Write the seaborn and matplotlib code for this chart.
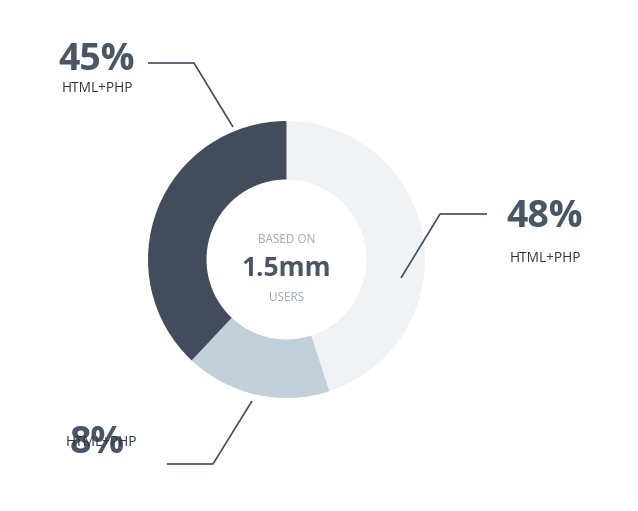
import matplotlib.pyplot as plt
import seaborn as sns

# ring shares, clockwise from 12 o'clock
shares = [45, 17, 38]
slice_colors = ["#eff3f6", "#c2d0da", "#434c5a"]

# callout texts: right, bottom, top-left
pct_labels = ["48%", "8%", "45%"]
names = ["HTML+PHP", "HTML+PHP", "HTML+PHP"]
center_lines = ["BASED ON", "1.5mm", "USERS"]

sns.set_theme(style="white")
plt.rcParams["font.family"] = ["Open Sans", "DejaVu Sans"]

W, H = 638, 511
fig = plt.figure(figsize=(W / 100, H / 100), dpi=100)
ax = fig.add_axes([0, 0, 1, 1])

cx, cy = 286.5, H - 259.5
ax.pie(shares, colors=slice_colors, startangle=90, counterclock=False,
       center=(cx, cy), radius=138.5,
       wedgeprops=dict(width=58.5, linewidth=0))
ax.set_xlim(0, W)
ax.set_ylim(0, H)
ax.axis("off")

dark = "#4a5566"
line_col = "#434c5a"

# leader lines (pixel positions, y measured from top)
leaders = [
    [(401, 278), (440, 214), (487, 214)],
    [(252, 401), (213, 464), (167, 464)],
    [(233, 127), (194, 63), (148, 63)],
]
for pts in leaders:
    xs = [p[0] for p in pts]
    ys = [H - p[1] for p in pts]
    ax.plot(xs, ys, color=line_col, lw=1.2, solid_capstyle="butt")

# callout text positions: (x, pct baseline, name x, name baseline)
spots = [(545, 226.7, 545, 261.7), (97.5, 452.7, 101, 445.7), (97, 70, 97, 92.3)]
for (px, pb, nx, nb), pct, nm in zip(spots, pct_labels, names):
    ax.text(px, H - pb, pct, ha="center", va="baseline", fontsize=27,
            fontweight="bold", color=dark, zorder=3)
    ax.text(nx, H - nb, nm, ha="center", va="baseline", fontsize=9.8,
            color="#2f343c", zorder=4)

# centre text
ax.text(cx, H - 243, center_lines[0], ha="center", va="baseline",
        fontsize=8.5, color="#9ba6b3")
ax.text(cx, H - 276.5, center_lines[1], ha="center", va="baseline",
        fontsize=19, fontweight="bold", color=dark)
ax.text(cx, H - 301, center_lines[2], ha="center", va="baseline",
        fontsize=8.5, color="#9ba6b3")

fig.savefig("out.png", dpi=100, facecolor="white")
